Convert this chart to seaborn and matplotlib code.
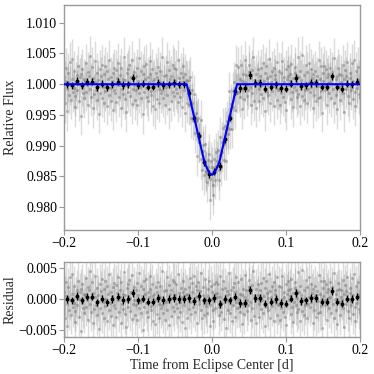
import numpy as np
import matplotlib
matplotlib.use("Agg")
import matplotlib.pyplot as plt
import seaborn as sns

# model curve knots (time [d], relative flux)
model_time = [-0.200, -0.034, -0.025, -0.015, -0.010, -0.006, -0.003, 0.000,
              0.003, 0.006, 0.010, 0.015, 0.025, 0.034, 0.200]
model_flux = [1.0000, 1.0000, 0.9952, 0.9899, 0.9873, 0.9862, 0.9855, 0.9853,
              0.9855, 0.9862, 0.9873, 0.9899, 0.9952, 1.0000, 1.0000]

# binned residuals (58 bins across -0.2..0.2 d)
binned_resid = [0.0000, -0.0002, 0.0005, -0.0002, 0.0004, 0.0004, -0.0005, 0.0001,
                -0.0005, 0.0000, 0.0004, -0.0001, 0.0000, 0.0010, -0.0002, 0.0001,
                -0.0004, -0.0004, 0.0002, -0.0001, 0.0000, 0.0002, 0.0000, 0.0000,
                0.0002, -0.0003, 0.0005, -0.0002, -0.0002, 0.0002, -0.0008, 0.0000,
                -0.0002, 0.0004, -0.0006, -0.0006, 0.0015, 0.0002, 0.0002, -0.0007,
                -0.0004, 0.0000, -0.0006, -0.0007, 0.0001, 0.0010, -0.0003, -0.0002,
                0.0002, 0.0002, -0.0004, -0.0004, 0.0013, -0.0004, -0.0007, 0.0001,
                0.0000, 0.0004]
binned_err = 0.0006

# unbinned residuals, units of 1e-4 (estimated from the gray cloud)
raw_resid = [
    12, -31, 5, 27, -8, -44, 19, 3, -17, 36, -2, -25, 8, 41, -13, -6,
    22, -19, -37, 4, 15, -9, 30, -28, 1, 11, -51, 17, -4, 25, -15, 9,
    -23, 6, 34, -12, -1, 20, -33, 14, -7, 46, -20, 2, 28, -39, 10, -16,
    3, 38, -10, -26, 18, -3, 7, -48, 24, -14, 13, 32, -22, -5, 16, -30,
    29, -11, 0, 21, -35, 8, -18, 40, -6, -27, 12, 5, -42, 19, 26, -9,
    -14, 23, -29, 10, 35, -2, -21, 4, 15, -38, 27, -8, 9, -16, 44, -24,
    7, -45, 18, -3, 24, -13, 31, -19, 2, 11, -32, 39, -7, -1, 20, -26,
    -10, 14, 26, -34, 6, 43, -15, -4, 22, -23, 1, 17, -49, 30, -12, 8,
    33, -6, -20, 12, -28, 3, 16, 37, -11, -17, 25, -36, 5, 9, -2, -40,
    19, -24, 11, 28, -7, -30, 4, 21, -14, 45, -9, -22, 13, 0, -33, 15,
    -5, 36, -18, -1, 23, -41, 8, 14, -27, 2, 31, -12, -19, 27, 6, -8,
    24, -15, 40, -29, 10, -4, -21, 18, 3, -37, 12, 29, -10, -46, 17, 7,
    -31, 9, 2, 20, -16, 34, -5, -24, 26, 11, -13, -2, 38, -20, 4, 22,
    15, -39, 27, -8, -3, 13, 42, -17, -30, 6, 19, -25, 1, 33, -11, -6,
    -22, 5, 17, 30, -43, -9, 21, 1, 12, -18, -35, 24, 8, -14, 28, 3,
    10, 25, -26, -12, 37, 4, -20, 16, -6, 29, -1, -32, 18, 7, -47, 13,
    -3, -17, 8, 43, -23, 14, 2, -36, 20, -10, 26, 11, -28, -5, 35, -15,
    28, 0, -13, -21, 9, 32, -40, 6, -8, 17, -24, 39, 3, 15, -19, -2,
    -9, 20, 31, -4, -34, 11, 23, -14, 45, -27, 7, -3, 16, -38, 1, 24,
    6, -28, -7, 14, 26, -16, -1, 34, -22, 5, 18, -44, 29, 10, -12, 2,
    -18, 41, 13, -30, 4, 22, -11, -3, 27, -35, 9, 15, -6, 36, -25, -10,
    21, -8, -33, 19, -15, 0, 38, -20, 12, 3, -29, 24, -42, 8, 14, 30,
    -1, 16, 5, -24, 33, -13, -37, 10, -4, 28, 18, -9, 2, -21, 44, -16,
    11, -35, 22, 7, -19, 47, 1, -26, 15, -10, -2, 31, -31, 20, -7, 4,
    35, -12, -5, 25, 10, -39, 17, 3, -17, 22, -28, 6, 13, -3, -23, 39,
    -20, 8, 29, -11, -46, 18, 5, 30, -9, -1, 24, -34, 11, 2, 16, -14,
    4, 27, -22, 12, 20, -7, -31, 43, 0, -18, 9, 14, -40, 26, -5, 17,
    -26, 3, 15, -2, 31, -15, 8, -45, 23, 13, -8, 36, -19, 1, -30, 10,
    18, -10, -3, 34, -24, 6, 40, -13, -36, 21, 2, -6, 28, -16, 7, -21,
]
raw_err = 0.0032

x_ticks = [-0.2, -0.1, 0.0, 0.1, 0.2]
flux_ticks = [0.980, 0.985, 0.990, 0.995, 1.000, 1.005, 1.010]
resid_ticks = [-0.005, 0.0, 0.005]

sns.set_style("ticks")
plt.rcParams['font.family'] = ['Liberation Serif', 'DejaVu Serif']
plt.rcParams['font.size'] = 10
plt.rcParams['axes.edgecolor'] = '#999999'
plt.rcParams['xtick.color'] = '#999999'
plt.rcParams['ytick.color'] = '#999999'
plt.rcParams['xtick.labelcolor'] = 'black'
plt.rcParams['ytick.labelcolor'] = 'black'

# time grids
t_raw = np.linspace(-0.2, 0.2, len(raw_resid))
n_bins = len(binned_resid)
edges = np.linspace(-0.2, 0.2, n_bins + 1)
t_bin = 0.5 * (edges[:-1] + edges[1:])

resid_raw = np.array(raw_resid) * 1e-4
resid_bin = np.array(binned_resid)
flux_raw = np.interp(t_raw, model_time, model_flux) + resid_raw
flux_bin = np.interp(t_bin, model_time, model_flux) + resid_bin

fig = plt.figure(figsize=(3.74, 3.74), dpi=100)
ax1 = fig.add_axes([0.171, 0.385, 0.791, 0.602])
ax2 = fig.add_axes([0.171, 0.099, 0.791, 0.2005])

gray_kw = dict(fmt='o', ms=2.3, color=(0.4, 0.4, 0.4, 0.4), mec='none',
               ecolor=(0.45, 0.45, 0.45, 0.25), elinewidth=1.0, capsize=0, zorder=1)
bin_kw = dict(fmt='o', ms=1.8, color='black', ecolor='black',
              elinewidth=1.0, capsize=0, zorder=3)

# top panel
ax1.errorbar(t_raw, flux_raw, yerr=raw_err, **gray_kw)
ax1.errorbar(t_bin, flux_bin, yerr=binned_err, **bin_kw)
sns.lineplot(x=model_time, y=model_flux, ax=ax1, color='#0000ff', lw=1.5,
             sort=False, estimator=None, zorder=4)
ax1.set_xlim(-0.2, 0.2)
ax1.set_ylim(0.9763, 1.0129)
ax1.set_xticks(x_ticks)
ax1.set_yticks(flux_ticks)
ax1.set_yticklabels([f"{v:.3f}" for v in flux_ticks])
ax1.set_ylabel("Relative Flux")

# residual panel
ax2.errorbar(t_raw, resid_raw, yerr=raw_err, **gray_kw)
ax2.errorbar(t_bin, resid_bin, yerr=binned_err, **bin_kw)
ax2.set_xlim(-0.2, 0.2)
ax2.set_ylim(-0.0061, 0.0060)
ax2.set_xticks(x_ticks)
ax2.set_yticks(resid_ticks)
ax2.set_yticklabels(["\u22120.005", "0.000", "0.005"])
ax2.set_ylabel("Residual")
ax2.set_xlabel("Time from Eclipse Center [d]", labelpad=1)

for ax in (ax1, ax2):
    ax.tick_params(length=3.5, width=0.8, pad=1.5)
    ax.yaxis.set_label_coords(-0.16, 0.5)
    for s in ax.spines.values():
        s.set_visible(True)
        s.set_linewidth(1.0)

fig.savefig("out.png", dpi=100)
